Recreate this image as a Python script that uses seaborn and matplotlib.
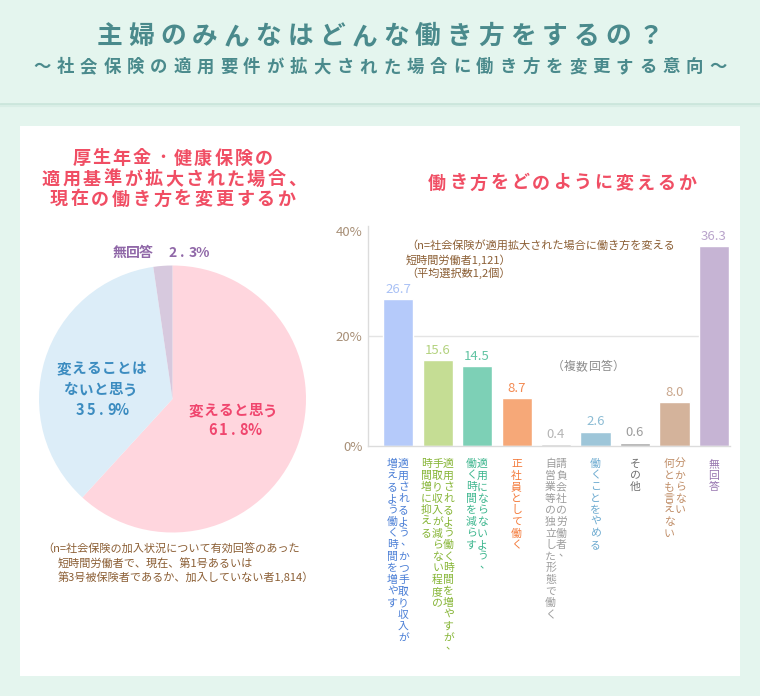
import matplotlib
matplotlib.use("Agg")
import matplotlib.pyplot as plt
import seaborn as sns
from matplotlib.patches import Rectangle
from matplotlib.lines import Line2D

# ---- data ----
pie_labels = ["変えると思う", "変えることはないと思う", "無回答"]
pie_values = [61.8, 35.9, 2.3]
pie_colors = ["#ffd6de", "#dcedf8", "#d7c9de"]

# vertical labels, columns listed right to left
label_columns = [
    ["適用されるよう、かつ手取り収入が", "増えるよう働く時間を増やす"],
    ["適用されるよう働く時間を増やすが、", "手取り収入が減らない程度の", "時間増に抑える"],
    ["適用にならないよう、", "働く時間を減らす"],
    ["正社員として働く"],
    ["請負会社の労働者、", "自営業等の独立した形態で働く"],
    ["働くことをやめる"],
    ["その他"],
    ["分からない", "何とも言えない"],
    ["無回答"],
]
bar_values = [26.7, 15.6, 14.5, 8.7, 0.4, 2.6, 0.6, 8.0, 36.3]
bar_colors = ["#b5cafa", "#c5dd94", "#7dd0b6", "#f6a878", "#cccccc",
              "#9ec6d9", "#ababab", "#d4b39b", "#c6b4d4"]
value_colors = ["#a9c1f5", "#b3d27e", "#62c4a3", "#f38a52", "#b5b5b5",
                "#8cbcd4", "#9c9c9c", "#c9a68c", "#b9a4cb"]
text_colors = ["#4b7fd6", "#86b536", "#3db68e", "#f47a3a", "#9d9d9d",
               "#6caad0", "#6e6e6e", "#c08e68", "#9877b0"]
categories = ["".join(c) for c in label_columns]
y_ticks = [0, 20, 40]

W, H = 760, 696

sns.set_theme(style="white")
plt.rcParams['font.family'] = ['Noto Sans CJK JP', 'DejaVu Sans']

fig = plt.figure(figsize=(W / 100, H / 100), dpi=100)
fig.patch.set_facecolor("#e4f5ee")


def fx(x):
    return x / W


def fy(y):
    return 1 - y / H


def spaced_text(s, xc, yc, step, size, **kw):
    # draw characters one by one with letter spacing, yc = visual centre
    x0 = xc - step * (len(s) - 1) / 2
    base = yc + 0.36 * size * 100 / 72
    for i, ch in enumerate(s):
        fig.text(fx(x0 + i * step), fy(base), ch, ha="center", va="baseline",
                 fontsize=size, **kw)


# header band + white panel
fig.add_artist(Line2D([0, 1], [fy(104), fy(104)], color="#cbe6dc", lw=2,
                      transform=fig.transFigure))
fig.add_artist(Line2D([0, 1], [fy(106), fy(106)], color="#d9eee6", lw=1.5,
                      transform=fig.transFigure))
fig.add_artist(Rectangle((fx(20), fy(676)), 720 / W, 550 / H, transform=fig.transFigure,
                         facecolor="white", edgecolor="none", zorder=-1))

head_color = "#4a8a8c"
spaced_text("主婦のみんなはどんな働き方をするの？", 380, 35, 31.8, 18.5,
            color=head_color, fontweight="bold")
spaced_text("～社会保険の適用要件が拡大された場合に働き方を変更する意向～", 380, 66, 23.3, 12.5,
            color=head_color, fontweight="bold")

# ==============================================================
# PIE
# ==============================================================
red = "#f04e64"
spaced_text("厚生年金･健康保険の", 172.5, 157, 20.3, 13, color=red, fontweight="bold")
spaced_text("適用基準が拡大された場合、", 174, 178, 20.5, 13, color=red, fontweight="bold")
spaced_text("現在の働き方を変更するか", 172.5, 198, 20.7, 13, color=red, fontweight="bold")

r_px = 133.5
half = 1.25 * r_px
ax_pie = fig.add_axes([fx(172.5 - half), fy(399 + half), 2 * half / W, 2 * half / H])
ax_pie.pie(pie_values, colors=pie_colors, startangle=90, counterclock=False,
           wedgeprops=dict(linewidth=0))
ax_pie.set_xlim(-1.25, 1.25)
ax_pie.set_ylim(-1.25, 1.25)

pink_t, blue_t, lilac_t = "#f0466e", "#3c8cc0", "#9068a8"
spaced_text("変えると思う", 233, 410, 15, 10.5, color=pink_t, fontweight="bold")
spaced_text(f"{pie_values[0]}%", 233.5, 430, 10.5, 10.5, color=pink_t, fontweight="bold")
spaced_text("変えることは", 101.5, 368, 15, 10.5, color=blue_t, fontweight="bold")
spaced_text("ないと思う", 100.5, 389, 15, 10.5, color=blue_t, fontweight="bold")
spaced_text(f"{pie_values[1]}%", 101, 410, 10.5, 10.5, color=blue_t, fontweight="bold")
spaced_text(pie_labels[2], 133, 252, 13, 10, color=lilac_t, fontweight="bold")
spaced_text(f"{pie_values[2]}%", 187.5, 252, 10, 10, color=lilac_t, fontweight="bold")

note_color = "#8b5e34"
fig.text(fx(42), fy(549), "（n=社会保険の加入状況について有効回答のあった", fontsize=8,
         color=note_color, va="center")
fig.text(fx(58), fy(563), "短時間労働者で、現在、第1号あるいは", fontsize=8,
         color=note_color, va="center")
fig.text(fx(58), fy(577), "第3号被保険者であるか、加入していない者1,814）", fontsize=8,
         color=note_color, va="center")

# ==============================================================
# BARS
# ==============================================================
spaced_text("働き方をどのように変えるか", 562, 182, 20.8, 13, color=red, fontweight="bold")

ax = fig.add_axes([fx(368), fy(446), 362 / W, 220 / H])
ax.set_facecolor("none")
ax.axhline(20, color="#e4e4e4", lw=1, zorder=0)
sns.barplot(x=categories, y=bar_values, hue=categories, palette=bar_colors,
            legend=False, saturation=1, width=0.76, ax=ax, zorder=2)
ax.set_xlim(-0.76, 8.405)
ax.set_ylim(0, 40)
ax.set_yticks(y_ticks)
ax.set_yticklabels([f"{t}%" for t in y_ticks], color="#a89078", fontsize=9.5)
ax.get_yticklabels()[-1].set_va("top")
ax.set_xticks([])
ax.tick_params(axis="y", length=0, pad=4)
ax.set_xlabel("")
ax.set_ylabel("")
for side in ["top", "right"]:
    ax.spines[side].set_visible(False)
for side in ["left", "bottom"]:
    ax.spines[side].set_color("#dcdcdc")
    ax.spines[side].set_linewidth(1)

for i, v in enumerate(bar_values):
    ax.annotate(f"{v:.1f}", (i, v), xytext=(0, 7), textcoords="offset points",
                ha="center", va="center", fontsize=9.5, color=value_colors[i],
                annotation_clip=False)

# vertical japanese labels below the bars
px = 0.72
for i, cols in enumerate(label_columns):
    n = len(cols)
    for k, col in enumerate(cols):
        dx = ((n - 1) / 2 - k) * 11 * px
        for j, ch in enumerate(col):
            ox, oy = dx, -(17 + 4 + j * 11.6) * px
            if ch == "、":
                ox += 2.5 * px
                oy += 3 * px
            ax.annotate(ch, (i, 0), xytext=(ox, oy), textcoords="offset points",
                        ha="center", va="baseline", fontsize=7.8,
                        color=text_colors[i], annotation_clip=False)

ax.text(0.105, 0.91, "（n=社会保険が適用拡大された場合に働き方を変える", transform=ax.transAxes,
        fontsize=8, color=note_color, va="center")
ax.text(0.105, 0.846, "短時間労働者1,121）", transform=ax.transAxes,
        fontsize=8, color=note_color, va="center")
ax.text(0.105, 0.786, "（平均選択数1,2個）", transform=ax.transAxes,
        fontsize=8, color=note_color, va="center")
spaced_text("（複数回答）", 588, 366, 12.2, 8.5, color="#8c8c8c")

fig.savefig("out.png", dpi=100, facecolor=fig.get_facecolor())
